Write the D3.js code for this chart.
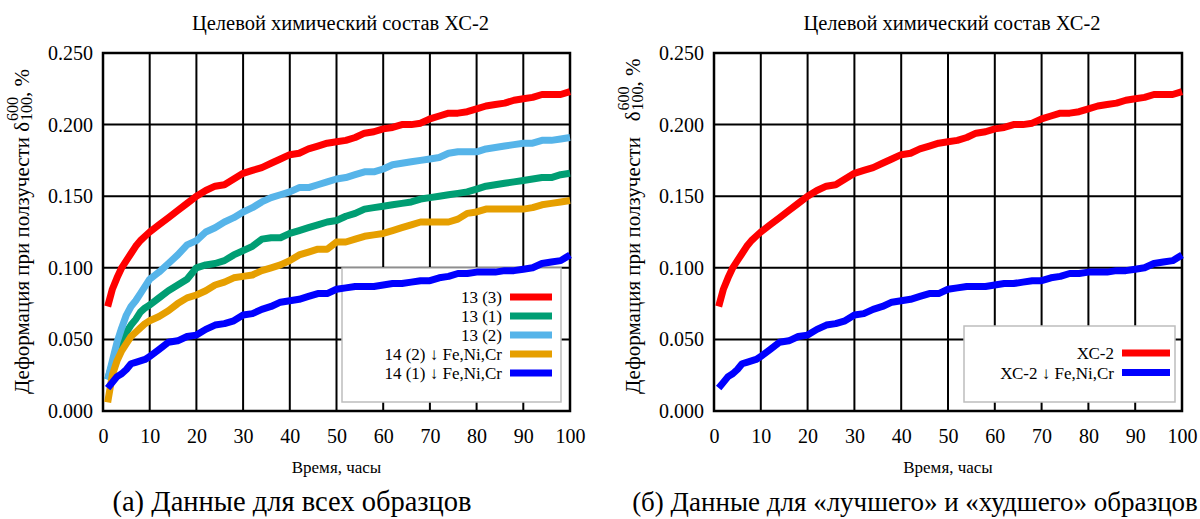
<!DOCTYPE html>
<html>
<head>
<meta charset="utf-8">
<script src="https://cdn.jsdelivr.net/npm/d3@7"></script>
<style>
  html, body { margin: 0; padding: 0; background: #fff; }
  svg { display: block; }
  svg text { font-family: 'Liberation Serif', 'Times New Roman', serif; fill: #000; }
</style>
</head>
<body>
<svg id="fig" width="1200" height="519"></svg>
<script>
// Creep test time points, hours
const hours = [1, 2, 3, 4, 5, 6, 7, 8, 9, 10,
  12, 14, 16, 18, 20, 22, 24, 26, 28, 30, 32, 34, 36, 38, 40, 42, 44, 46, 48, 50,
  52, 54, 56, 58, 60, 62, 64, 66, 68, 70, 72, 74, 76, 78, 80, 82, 84, 86, 88, 90,
  92, 94, 96, 98, 100];

// Creep strain, %
const s13_3 = [0.073, 0.085, 0.093, 0.100, 0.105, 0.110, 0.115, 0.119, 0.122, 0.125,
  0.130, 0.135, 0.140, 0.145, 0.150, 0.154, 0.157, 0.158, 0.162, 0.166,
  0.168, 0.170, 0.173, 0.176, 0.179, 0.180, 0.183, 0.185, 0.187, 0.188,
  0.189, 0.191, 0.194, 0.195, 0.197, 0.198, 0.200, 0.200, 0.201, 0.204,
  0.206, 0.208, 0.208, 0.209, 0.211, 0.213, 0.214, 0.215, 0.217, 0.218,
  0.219, 0.221, 0.221, 0.221, 0.223];
const s13_1 = [0.022, 0.033, 0.043, 0.050, 0.055, 0.060, 0.064, 0.069, 0.072, 0.074,
  0.079, 0.084, 0.088, 0.092, 0.100, 0.102, 0.103, 0.105, 0.109, 0.112,
  0.115, 0.120, 0.121, 0.121, 0.124, 0.126, 0.128, 0.130, 0.132, 0.133,
  0.136, 0.138, 0.141, 0.142, 0.143, 0.144, 0.145, 0.146, 0.148, 0.149,
  0.150, 0.151, 0.152, 0.153, 0.155, 0.157, 0.158, 0.159, 0.160, 0.161,
  0.162, 0.163, 0.163, 0.165, 0.166];
const s13_2 = [0.022, 0.035, 0.048, 0.058, 0.067, 0.073, 0.077, 0.082, 0.087, 0.092,
  0.097, 0.103, 0.109, 0.116, 0.119, 0.125, 0.128, 0.132, 0.135, 0.139,
  0.142, 0.146, 0.149, 0.151, 0.153, 0.156, 0.156, 0.158, 0.160, 0.162,
  0.163, 0.165, 0.167, 0.167, 0.169, 0.172, 0.173, 0.174, 0.175, 0.176,
  0.177, 0.180, 0.181, 0.181, 0.181, 0.183, 0.184, 0.185, 0.186, 0.187,
  0.187, 0.189, 0.189, 0.190, 0.191];
const s14_2 = [0.006, 0.025, 0.035, 0.042, 0.047, 0.052, 0.055, 0.058, 0.061, 0.063,
  0.066, 0.070, 0.075, 0.079, 0.081, 0.084, 0.088, 0.090, 0.093, 0.094,
  0.095, 0.098, 0.100, 0.102, 0.105, 0.109, 0.111, 0.113, 0.113, 0.118,
  0.118, 0.120, 0.122, 0.123, 0.124, 0.126, 0.128, 0.130, 0.132, 0.132,
  0.132, 0.132, 0.134, 0.138, 0.139, 0.141, 0.141, 0.141, 0.141, 0.141,
  0.142, 0.144, 0.145, 0.146, 0.147];
const s14_1 = [0.016, 0.020, 0.024, 0.026, 0.029, 0.033, 0.034, 0.035, 0.036, 0.038,
  0.043, 0.048, 0.049, 0.052, 0.053, 0.057, 0.060, 0.061, 0.063, 0.067,
  0.068, 0.071, 0.073, 0.076, 0.077, 0.078, 0.080, 0.082, 0.082, 0.085,
  0.086, 0.087, 0.087, 0.087, 0.088, 0.089, 0.089, 0.090, 0.091, 0.091,
  0.093, 0.094, 0.096, 0.096, 0.097, 0.097, 0.097, 0.098, 0.098, 0.099,
  0.100, 0.103, 0.104, 0.105, 0.109];

const xTicks = [0, 10, 20, 30, 40, 50, 60, 70, 80, 90, 100];
const yTicks = [0, 0.05, 0.10, 0.15, 0.20, 0.25];

const allNames = ["13 (3)", "13 (1)", "13 (2)", "14 (2) \u2193 Fe,Ni,Cr", "14 (1) \u2193 Fe,Ni,Cr"];
const allSeries = [s13_3, s13_1, s13_2, s14_2, s14_1];
const allColors = ["#ff0000", "#009e73", "#56b4e9", "#e69f00", "#0000ff"];

const pairNames = ["\u0425\u0421-2", "\u0425\u0421-2 \u2193 Fe,Ni,Cr"];
const pairSeries = [s13_3, s14_1];
const pairColors = ["#ff0000", "#0000ff"];

const title = "Целевой химический состав ХС-2";
const xTitle = "Время, часы";

const FONT = "'Liberation Serif', 'Times New Roman', serif";
const svg = d3.select("#fig");

function panel(cfg) {
  const g = svg.append("g");
  const x = d3.scaleLinear().domain([0, 100]).range([cfg.left, cfg.right]);
  const y = d3.scaleLinear().domain([0, 0.25]).range([cfg.bottom, cfg.top]);

  // grid
  g.append("g").selectAll("line").data(xTicks).join("line")
    .attr("x1", d => x(d)).attr("x2", d => x(d))
    .attr("y1", cfg.top).attr("y2", cfg.bottom)
    .attr("stroke", "#000").attr("stroke-width", 2);
  g.append("g").selectAll("line").data(yTicks).join("line")
    .attr("x1", cfg.left).attr("x2", cfg.right)
    .attr("y1", d => y(d)).attr("y2", d => y(d))
    .attr("stroke", "#000").attr("stroke-width", 2);

  // tick labels
  const xAxis = d3.axisBottom(x).tickValues(xTicks).tickSize(0).tickPadding(18).tickFormat(d3.format("d"));
  const xg = g.append("g").attr("transform", `translate(0,${cfg.bottom})`).call(xAxis);
  const yAxis = d3.axisLeft(y).tickValues(yTicks).tickSize(0).tickPadding(10).tickFormat(d3.format(".3f"));
  const yg = g.append("g").attr("transform", `translate(${cfg.left},0)`).call(yAxis);
  [xg, yg].forEach(a => {
    a.select(".domain").remove();
    a.attr("font-family", null);
    a.selectAll("text").style("font-family", FONT).attr("font-size", 20).attr("fill", "#000");
  });

  // frame
  g.append("rect").attr("x", cfg.left).attr("y", cfg.top)
    .attr("width", cfg.right - cfg.left).attr("height", cfg.bottom - cfg.top)
    .attr("fill", "none").attr("stroke", "#000").attr("stroke-width", 2.5);

  // legend box, curves are drawn over it
  g.append("rect").attr("x", cfg.legend.x).attr("y", cfg.legend.y)
    .attr("width", cfg.legend.w).attr("height", cfg.legend.h)
    .attr("fill", "#fff").attr("stroke", "#bdbdbd").attr("stroke-width", 1.5);

  // curves
  const line = d3.line().x((d, i) => x(hours[i])).y(d => y(d));
  g.append("g").selectAll("path").data(cfg.series).join("path")
    .attr("d", d => line(d))
    .attr("fill", "none")
    .attr("stroke", (d, i) => cfg.colors[i])
    .attr("stroke-width", 7)
    .attr("stroke-linejoin", "round");

  // legend entries
  const le = g.append("g").selectAll("g").data(cfg.names).join("g")
    .attr("transform", (d, i) => `translate(0,${cfg.legend.firstY + i * cfg.legend.step})`);
  le.append("line")
    .attr("x1", cfg.legend.lx1).attr("x2", cfg.legend.lx2)
    .attr("stroke", (d, i) => cfg.colors[i]).attr("stroke-width", 7);
  le.append("text")
    .attr("x", cfg.legend.tx).attr("y", 6)
    .attr("text-anchor", "end").attr("font-size", 17)
    .style("font-family", FONT)
    .text(d => d);

  // title
  g.append("text").attr("x", (cfg.left + cfg.right) / 2 + 4).attr("y", 30)
    .attr("text-anchor", "middle").attr("font-size", 20.5).style("font-family", FONT).text(title);

  // x title
  g.append("text").attr("x", (cfg.left + cfg.right) / 2).attr("y", 473)
    .attr("text-anchor", "middle").attr("font-size", 17).style("font-family", FONT).text(xTitle);

  // caption
  g.append("text").attr("x", cfg.capX).attr("y", 511)
    .attr("text-anchor", "middle").attr("font-size", cfg.capSize).style("font-family", FONT).text(cfg.caption);

  // y title with stacked super/subscript
  const yl = g.append("g").attr("transform", `translate(${cfg.yLabelX},${cfg.yLabelStart}) rotate(-90)`);
  const main = yl.append("text").attr("x", 0).attr("y", 0).attr("font-size", 21)
    .style("font-family", FONT).style("white-space", "pre").text(cfg.yMain);
  const w = main.node().getComputedTextLength();
  const sup = yl.append("text").attr("x", w + 1).attr("y", -11).attr("font-size", 16).style("font-family", FONT).text("600");
  const sub = yl.append("text").attr("x", w + 1).attr("y", 3).attr("font-size", 16).style("font-family", FONT).text("100");
  const sw = Math.max(sup.node().getComputedTextLength(), sub.node().getComputedTextLength());
  yl.append("text").attr("x", w + sw + 1).attr("y", 0).attr("font-size", 21).style("font-family", FONT)
    .style("white-space", "pre").text(", %");
}

panel({
  left: 103, right: 570, top: 53, bottom: 411,
  series: allSeries, colors: allColors, names: allNames,
  legend: { x: 342, y: 268, w: 219, h: 134, firstY: 297, step: 19, lx1: 510, lx2: 552, tx: 502 },
  caption: "(а) Данные для всех образцов", capX: 292, capSize: 28.5,
  yMain: "Деформация при ползучести δ", yLabelX: 29, yLabelStart: 394
});

panel({
  left: 714, right: 1182, top: 53, bottom: 411,
  series: pairSeries, colors: pairColors, names: pairNames,
  legend: { x: 964, y: 326, w: 211, h: 76, firstY: 353, step: 19.5, lx1: 1122, lx2: 1170, tx: 1114 },
  caption: "(б) Данные для «лучшего» и «худшего» образцов", capX: 915, capSize: 27,
  yMain: "Деформация при ползучести   δ", yLabelX: 640, yLabelStart: 394
});
</script>
</body>
</html>
